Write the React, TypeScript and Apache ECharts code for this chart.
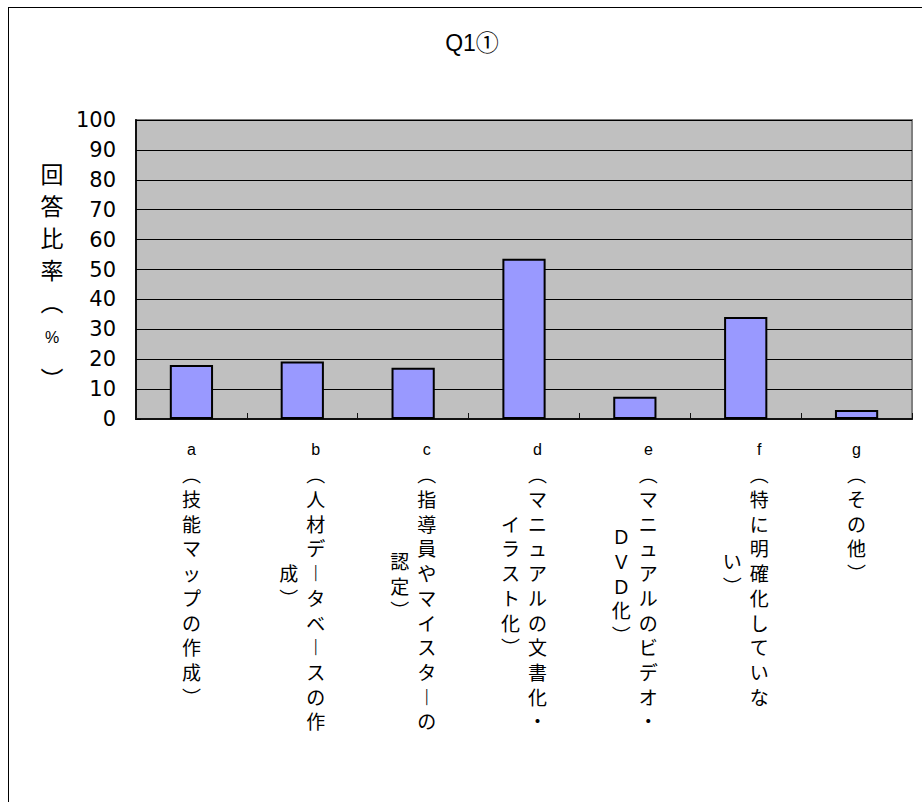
import React, { useEffect, useRef } from 'react';
import * as echarts from 'echarts';

// ---- data ----
const chartTitle = 'Q1①';
const yAxisTitle = '回答比率（%）';
const categoryLabels = [
  'a（技能マップの作成）',
  'b（人材データベースの作成）',
  'c（指導員やマイスターの認定）',
  'd（マニュアルの文書化・イラスト化）',
  'e（マニュアルのビデオ・ＤＶＤ化）',
  'f（特に明確化していない）',
  'g（その他）',
];
const answerRates = [18.1, 19.2, 17.1, 53.6, 7.4, 34.1, 3.0];
const yMin = 0;
const yMax = 100;
const yInterval = 10;

// ---- text helpers ----
const CJK_FONT = '"Noto Sans CJK JP", "Noto Sans CJK SC", sans-serif';
const LATIN_FONT = '"Liberation Sans", Arial, "Noto Sans CJK JP", sans-serif';
const WIDE_FONT = '"DejaVu Sans", "Noto Sans CJK JP", sans-serif';

// glyphs swapped for their vertical-writing forms when stacked
const VERTICAL_FORMS: Record<string, string> = { '（': '︵', '）': '︶', 'ー': '︱' };
// characters that may not begin a new column
const NO_COLUMN_START = '）';
const ROWS_PER_COLUMN = 12;
const ROW = 24.7; // px per stacked character
const HALF = ROW / 2;
const COL_W = 27;

function splitColumns(text: string): string[][] {
  const chars = Array.from(text);
  const cols: string[][] = [];
  let i = 0;
  while (i < chars.length) {
    let end = Math.min(i + ROWS_PER_COLUMN, chars.length);
    while (end < chars.length && end - i > 1 && NO_COLUMN_START.includes(chars[end])) end--;
    cols.push(chars.slice(i, end));
    i = end;
  }
  return cols;
}

// Stacked label: first column on the right, further columns to the left,
// each later column centred on the first one (half-row steps allowed).
function stackedLabel(text: string): string {
  const cols = splitColumns(text);
  const n0 = cols[0].length;
  const offsets = cols.map((c) => Math.max(0, n0 - c.length));
  const total = Math.max(...cols.map((c, k) => offsets[k] + 2 * c.length - 1));
  const lines: string[] = [];
  for (let h = 0; h < total; h++) {
    let line = '';
    for (let k = cols.length - 1; k >= 0; k--) {
      const rel = h - offsets[k];
      const ch = rel >= 0 && rel % 2 === 0 ? cols[k][rel / 2] : undefined;
      if (ch === undefined) {
        line += '{e| }';
      } else {
        const style = /[\x00-\x7f]/.test(ch) ? 'lt' : ch === 'ー' ? 'bar' : 'k';
        line += `{${style}|${VERTICAL_FORMS[ch] ?? ch}}`;
      }
    }
    lines.push(line);
  }
  return lines.join('\n');
}

function stackedTitle(text: string): string {
  return Array.from(text)
    .map((ch) => {
      if (ch === '%') return '{p|%}';
      if (ch === '）') return `{c|${VERTICAL_FORMS[ch]}}`;
      return `{t|${VERTICAL_FORMS[ch] ?? ch}}`;
    })
    .join('\n');
}

export default function App() {
  const ref = useRef<HTMLDivElement>(null);

  useEffect(() => {
    if (!ref.current) return;
    const chart = echarts.init(ref.current, null, { renderer: 'svg' });

    chart.setOption({
      animation: false,
      backgroundColor: '#ffffff',
      title: {
        text: chartTitle,
        left: 458,
        top: 18,
        textAlign: 'center',
        textStyle: { fontFamily: LATIN_FONT, fontSize: 23, fontWeight: 'normal', color: '#000' },
      },
      grid: {
        left: 127,
        top: 112,
        right: 10,
        bottom: 383,
        show: true,
        backgroundColor: '#c0c0c0',
        borderColor: '#808080',
        borderWidth: 2,
        containLabel: false,
        outerBoundsMode: 'none',
      },
      xAxis: {
        type: 'category',
        data: categoryLabels,
        boundaryGap: true,
        axisLine: { show: true, lineStyle: { color: '#111', width: 2 } },
        axisTick: { show: true, inside: true, length: 6, interval: 0, lineStyle: { color: '#111', width: 1 } },
        splitLine: { show: false },
        axisLabel: {
          interval: 0,
          margin: 24,
          lineHeight: HALF,
          color: '#000',
          formatter: (value: string) => stackedLabel(value),
          rich: {
            e: { width: COL_W, align: 'center', lineHeight: HALF, fontSize: 19, fontFamily: CJK_FONT },
            k: { width: COL_W, align: 'center', lineHeight: HALF, fontSize: 19, fontFamily: CJK_FONT, color: '#000' },
            bar: { width: COL_W, align: 'center', lineHeight: HALF, fontSize: 19, fontWeight: 'bold', fontFamily: CJK_FONT, color: '#000' },
            lt: { width: COL_W, align: 'center', lineHeight: HALF, fontSize: 16, fontFamily: LATIN_FONT, color: '#000' },
          },
        },
      },
      yAxis: {
        type: 'value',
        min: yMin,
        max: yMax,
        interval: yInterval,
        axisLine: { show: true, lineStyle: { color: '#111', width: 2 } },
        axisTick: { show: true, inside: true, length: 5, lineStyle: { color: '#000', width: 1 } },
        splitLine: { show: true, lineStyle: { color: '#000', width: 1 } },
        axisLabel: { margin: 20, fontSize: 21, fontFamily: WIDE_FONT, color: '#000' },
      },
      series: [
        {
          type: 'bar',
          data: answerRates,
          barWidth: '39%',
          itemStyle: { color: '#9999ff', borderColor: '#000', borderWidth: 2 },
        },
      ],
      graphic: [
        {
          type: 'text',
          x: 43,
          y: 149,
          style: {
            text: stackedTitle(yAxisTitle),
            align: 'center',
            verticalAlign: 'top',
            rich: {
              t: { fontSize: 23, fontFamily: CJK_FONT, lineHeight: 32, fill: '#000', align: 'center' },
              p: { fontSize: 16, fontFamily: LATIN_FONT, lineHeight: 40, fill: '#000', align: 'center' },
              c: { fontSize: 23, fontFamily: CJK_FONT, lineHeight: 42, fill: '#000', align: 'center' },
            },
          },
        },
      ],
    });

    return () => chart.dispose();
  }, []);

  // the sheet frame: only its top and left edges fall inside the window
  return (
    <div
      style={{
        position: 'fixed',
        left: 8,
        top: 7,
        width: 914,
        height: 795,
        borderTop: '1px solid #000',
        borderLeft: '1px solid #000',
        boxSizing: 'border-box',
        background: '#fff',
      }}
    >
      <div ref={ref} style={{ width: 913, height: 794 }} />
    </div>
  );
}
